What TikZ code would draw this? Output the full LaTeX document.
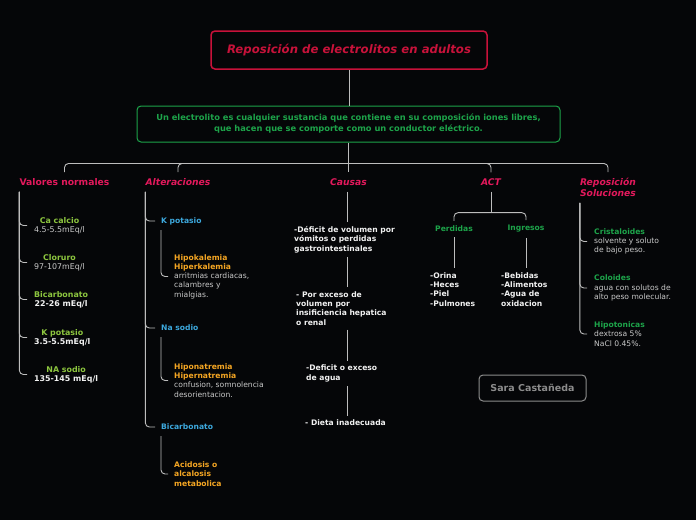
\documentclass[tikz,border=0pt]{standalone}
\usepackage{fontspec}
\setmainfont{DejaVu Sans}
\definecolor{bg}{HTML}{050608}
\definecolor{titlered}{HTML}{C8123A}
\definecolor{pinkred}{HTML}{E3195C}
\definecolor{dgreen}{HTML}{1DA44A}
\definecolor{lgreen}{HTML}{8DC63F}
\definecolor{lblue}{HTML}{3DA9DE}
\definecolor{orng}{HTML}{F5A623}
\definecolor{txtgray}{HTML}{C9C9C9}
\definecolor{txtwhite}{HTML}{F2F2F2}
\definecolor{linegray}{HTML}{BDBDBD}
\definecolor{saragray}{HTML}{8C8C8C}
\newcommand{\fs}{\fontsize{7.6}{9.3}\selectfont}
\newcommand{\fv}{\fontsize{7.9}{9.3}\selectfont}
\begin{document}
\begin{tikzpicture}[x=1pt,y=-1pt,
  conn/.style={draw=linegray, line width=0.9pt, rounded corners=4pt},
  titlebox/.style={draw=titlered, line width=1.5pt, rounded corners=4pt, fill=bg,
    minimum width=276pt, minimum height=38pt, text=titlered,
    font=\fontsize{11.7}{13}\selectfont\bfseries\itshape},
  defbox/.style={draw=dgreen, line width=1pt, rounded corners=4pt, fill=bg,
    minimum width=423pt, minimum height=36pt, text=dgreen, align=center,
    font=\fontsize{8.3}{11}\selectfont\bfseries},
  branch/.style={text=pinkred, inner xsep=0pt, inner ysep=6pt,
    font=\fontsize{9.2}{11}\selectfont\bfseries\itshape},
  smallb/.style={font=\fs\bfseries, text=txtwhite, inner ysep=4pt},
  sarabox/.style={draw=saragray, line width=1pt, rounded corners=4pt,
    minimum width=107pt, minimum height=26pt, text=saragray,
    font=\fontsize{9.5}{11}\selectfont\bfseries}
]
\useasboundingbox[fill=bg] (0,0) rectangle (696,520);

% top
\node[titlebox] (title) at (349,50) {Reposición de electrolitos en adultos};
\node[defbox] (def) at (348.5,124) {Un electrolito es cualquier sustancia que contiene en su composición iones libres,\\que hacen que se comporte como un conductor eléctrico.};
\draw[conn] (title.south) -- (title.south |- def.north);
\coordinate (j) at ([yshift=-21pt]def.south);
\draw[conn] (def.south) -- (j);

% branch labels
\node[branch, font=\fontsize{9.2}{11}\selectfont\bfseries] (vn) at (64.5,182) {Valores normales};
\node[branch] (alt) at (178,182) {Alteraciones};
\node[branch] (cau) at (348.5,182) {Causas};
\node[branch] (act) at (491,182) {ACT};
\node[branch, align=left] (rep) at (608,187.5) {Reposición\\Soluciones};

\draw[conn] (j) -| (vn.north);
\draw[conn] (j) -| (alt.north);
\draw[conn] (j) -| (act.north);
\draw[conn] (j) -| (rep.north);
\draw[conn] (j) -- (cau.north);

% Valores normales
\begin{scope}[every node/.style={anchor=west, align=center, inner xsep=7pt, inner ysep=0pt, font=\fv}]
\node (ca) at (27,225.5) {{\color{lgreen}\bfseries Ca calcio}\\{\color{txtgray}4.5-5.5mEq/l}};
\node (cl) at (27,262.5) {{\color{lgreen}\bfseries Cloruro}\\{\color{txtgray}97-107mEq/l}};
\node (bi) at (27,299.5) {{\color{lgreen}\bfseries Bicarbonato}\\{\color{txtwhite}\bfseries 22-26 mEq/l}};
\node (kv) at (27,337.5) {{\color{lgreen}\bfseries K potasio}\\{\color{txtwhite}\bfseries 3.5-5.5mEq/l}};
\node (na) at (27,374.5) {{\color{lgreen}\bfseries NA sodio}\\{\color{txtwhite}\bfseries 135-145 mEq/l}};
\end{scope}
\foreach \n in {ca,cl,bi,kv,na} \draw[conn] (vn.south west) |- (\n.west);

% Alteraciones
\begin{scope}[every node/.style={anchor=west, align=left, inner xsep=6pt, inner ysep=0pt, font=\fs}]
\node[text=lblue, font=\fs\bfseries] (kp) at (155,221) {K potasio};
\node[text=lblue, font=\fs\bfseries] (ns) at (155,328) {Na sodio};
\node[text=lblue, font=\fs\bfseries] (ba) at (155,427) {Bicarbonato};
\node (hk) at (168,276.5) {{\color{orng}\bfseries Hipokalemia}\\{\color{orng}\bfseries Hiperkalemia}\\{\color{txtgray}arritmias cardiacas,}\\{\color{txtgray}calambres y}\\{\color{txtgray}mialgias.}};
\node (hn) at (168,380.5) {{\color{orng}\bfseries Hiponatremia}\\{\color{orng}\bfseries Hipernatremia}\\{\color{txtgray}confusion, somnolencia}\\{\color{txtgray}desorientacion.}};
\node[text=orng, font=\fs\bfseries] (am) at (168,474) {Acidosis o\\alcalosis\\metabolica};
\end{scope}
\foreach \n in {kp,ns,ba} \draw[conn] (alt.south west) |- (\n.west);
\draw[conn] ([shift={(6pt,-9pt)}]kp.west) |- (hk.west);
\draw[conn] ([shift={(6pt,-9pt)}]ns.west) |- (hn.west);
\draw[conn] ([shift={(6pt,-9pt)}]ba.west) |- (am.west);

% Causas
\node[smallb, anchor=west, align=left, inner xsep=0pt] (c1) at (294,239.5) {-Déficit de volumen por\\vómitos o perdidas\\gastrointestinales};
\node[smallb, anchor=west, align=left, inner xsep=0pt] (c2) at (296,308.5) {- Por exceso de\\volumen por\\insificiencia hepatica\\o renal};
\node[smallb, anchor=west, align=left, inner xsep=0pt] (c3) at (306,373.5) {-Deficit o exceso\\de agua};
\node[smallb, anchor=west, align=left, inner xsep=0pt] (c4) at (305,423) {- Dieta inadecuada};
\draw[conn] ([xshift=-1.5pt]cau.south) -- ([xshift=-1.5pt]cau.south |- c1.north);
\draw[conn] ([xshift=-1.5pt]cau.south |- c1.south) -- ([xshift=-1.5pt]cau.south |- c2.north);
\draw[conn] ([xshift=-1.5pt]cau.south |- c2.south) -- ([xshift=-1.5pt]cau.south |- c3.north);
\draw[conn] ([xshift=-1.5pt]cau.south |- c3.south) -- ([xshift=-1.5pt]cau.south |- c4.north);

% ACT
\coordinate (aj) at ([yshift=-21pt]act.south);
\node[font=\fs\bfseries, text=dgreen, inner ysep=5pt] (perd) at (454,229) {Perdidas};
\node[font=\fs\bfseries, text=dgreen, inner ysep=5pt] (ingr) at (526,229) {Ingresos};
\draw[conn] (act.south) -- (aj);
\draw[conn] (aj) -| (perd.north);
\draw[conn] (aj) -| (ingr.north);
\node[smallb, anchor=west, align=left, inner xsep=0pt] (pl) at (430,289.5) {-Orina\\-Heces\\-Piel\\-Pulmones};
\node[smallb, anchor=west, align=left, inner xsep=0pt] (il) at (501,289.5) {-Bebidas\\-Alimentos\\-Agua de\\oxidacion};
\draw[conn] (perd.south) -- (perd.south |- pl.north);
\draw[conn] (ingr.south) -- (ingr.south |- il.north);

% Reposicion
\begin{scope}[every node/.style={anchor=west, align=left, inner xsep=7pt, inner ysep=0pt, font=\fs, text=txtgray}]
\node (cr) at (587,241.5) {{\color{dgreen}\bfseries Cristaloides}\\solvente y soluto\\de bajo peso.};
\node (co) at (587,288) {{\color{dgreen}\bfseries Coloides}\\agua con solutos de\\alto peso molecular.};
\node (hp) at (587,334) {{\color{dgreen}\bfseries Hipotonicas}\\dextrosa 5\%\\NaCl 0.45\%.};
\end{scope}
\foreach \n in {cr,co,hp} \draw[conn] (rep.south west) |- (\n.west);

% author
\node[sarabox] (sara) at (532.5,388) {Sara Castañeda};
\end{tikzpicture}
\end{document}
